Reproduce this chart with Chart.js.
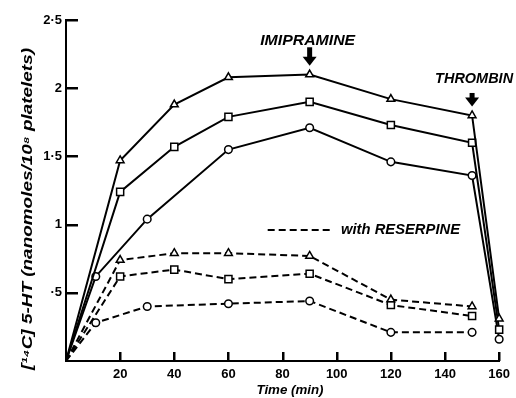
<!DOCTYPE html>
<html><head><meta charset="utf-8">
<script src="https://cdn.jsdelivr.net/npm/chart.js@4/dist/chart.umd.min.js"></script>
<style>html,body{margin:0;padding:0;background:#fff}#wrap{width:516px;height:398px}</style>
</head><body><div id="wrap"><canvas id="c" width="516" height="398"></canvas></div>
<script>
// ---- data ----
const timesTS = [0, 20, 40, 60, 90, 120, 150, 160];          // triangle & square, control
const timesC  = [0, 11, 30, 60, 90, 120, 150, 160];          // circle, control
const timesTSr = [0, 20, 40, 60, 90, 120, 150];              // triangle & square, reserpine
const timesCr  = [0, 11, 30, 60, 90, 120, 150];              // circle, reserpine
const triangleControl = [0, 1.47, 1.88, 2.08, 2.10, 1.92, 1.80, 0.31];
const squareControl   = [0, 1.24, 1.57, 1.79, 1.90, 1.73, 1.60, 0.23];
const circleControl   = [0, 0.62, 1.04, 1.55, 1.71, 1.46, 1.36, 0.16];
const triangleReserpine = [0, 0.74, 0.79, 0.79, 0.77, 0.45, 0.40];
const squareReserpine   = [0, 0.62, 0.67, 0.60, 0.64, 0.41, 0.33];
const circleReserpine   = [0, 0.28, 0.40, 0.42, 0.44, 0.21, 0.21];
const xTickValues = [20, 40, 60, 80, 100, 120, 140, 160];
const yTickValues = [0.5, 1, 1.5, 2, 2.5];
const yTickLabels = ['·5', '1', '1·5', '2', '2·5'];
const yTitle = '[¹⁴C] 5-HT (nanomoles/10⁸ platelets)';
const xTitle = 'Time (min)';
const legendText = 'with RESERPINE';
const annotations = [
  { text: 'IMIPRAMINE', at: 90 },
  { text: 'THROMBIN', at: 150 }
];

function pts(xs, ys) { return xs.map((x, i) => ({ x: x, y: ys[i] })); }
function ds(label, xs, ys, style, r, dashed) {
  return {
    label: label,
    data: pts(xs, ys),
    borderColor: '#000',
    borderWidth: 2,
    borderDash: dashed ? [7, 4] : [],
    backgroundColor: '#fff',
    pointStyle: style,
    pointRadius: c => c.dataIndex === 0 ? 0 : r,
    pointBorderWidth: 1.5,
    pointBorderColor: '#000',
    pointBackgroundColor: '#fff',
    tension: 0,
    clip: false
  };
}

const FONT = "'Liberation Sans', 'DejaVu Sans', sans-serif";

function fitText(ctx, text, cx, cy, targetW) {
  const w = ctx.measureText(text).width;
  ctx.save();
  ctx.translate(cx, cy);
  ctx.scale(targetW / w, 1);
  ctx.textAlign = 'center';
  ctx.fillText(text, 0, 0);
  ctx.restore();
}

const decor = {
  id: 'decor',
  afterDraw(chart) {
    const ctx = chart.ctx;
    const xs = chart.scales.x, ys = chart.scales.y;
    const L = chart.chartArea.left, B = chart.chartArea.bottom;
    ctx.save();
    ctx.setLineDash([]);
    ctx.strokeStyle = '#000';
    ctx.fillStyle = '#000';
    ctx.lineWidth = 2;
    ctx.lineCap = 'butt';
    // inward ticks
    for (let i = 0; i < yTickValues.length; i++) {
      const py = Math.round(ys.getPixelForValue(yTickValues[i]));
      ctx.beginPath();
      ctx.rect(L, py - 1, 12, 2.5);
      ctx.fill();
    }
    for (let i = 0; i < xTickValues.length; i++) {
      const px = Math.round(xs.getPixelForValue(xTickValues[i]));
      ctx.beginPath();
      ctx.rect(px - 1, B - 9, 2.5, 9);
      ctx.fill();
    }
    // annotations with arrows
    ctx.textBaseline = 'middle';
    const arrow = (px, y1, y2) => {
      ctx.fillRect(px - 2.5, y1, 5, (y2 - y1) - 7);
      ctx.beginPath();
      ctx.moveTo(px - 7, y2 - 9); ctx.lineTo(px + 7, y2 - 9); ctx.lineTo(px, y2); ctx.closePath(); ctx.fill();
    };
    // IMIPRAMINE
    let px = xs.getPixelForValue(annotations[0].at);
    ctx.font = 'italic bold 15px ' + FONT;
    fitText(ctx, annotations[0].text, px - 2, ys.getPixelForValue(2.35), 95);
    arrow(px, ys.getPixelForValue(2.30), ys.getPixelForValue(2.165));
    // THROMBIN
    px = xs.getPixelForValue(annotations[1].at);
    ctx.font = 'italic bold 14px ' + FONT;
    fitText(ctx, annotations[1].text, px + 2, ys.getPixelForValue(2.07), 78);
    arrow(px, ys.getPixelForValue(1.965), ys.getPixelForValue(1.865));
    // legend
    const ly = ys.getPixelForValue(0.96);
    ctx.setLineDash([7, 4]);
    ctx.beginPath(); ctx.moveTo(xs.getPixelForValue(74.5), ly); ctx.lineTo(xs.getPixelForValue(98), ly); ctx.stroke();
    ctx.setLineDash([]);
    ctx.font = 'italic bold 14px ' + FONT;
    fitText(ctx, legendText, 400.5, ly, 119);
    // x title
    ctx.font = 'italic bold 13px ' + FONT;
    fitText(ctx, xTitle, 290, 390, 67);
    // y title
    ctx.save();
    ctx.translate(28, 209);
    ctx.rotate(-Math.PI / 2);
    ctx.font = 'italic bold 14px ' + FONT;
    fitText(ctx, yTitle, 0, 0, 322);
    ctx.restore();
    ctx.restore();
  }
};

new Chart(document.getElementById('c'), {
  type: 'line',
  data: {
    datasets: [
      ds('triangle control', timesTS, triangleControl, 'triangle', 4.5, false),
      ds('square control', timesTS, squareControl, 'rect', 5, false),
      ds('circle control', timesC, circleControl, 'circle', 3.8, false),
      ds('triangle reserpine', timesTSr, triangleReserpine, 'triangle', 4.5, true),
      ds('square reserpine', timesTSr, squareReserpine, 'rect', 5, true),
      ds('circle reserpine', timesCr, circleReserpine, 'circle', 3.8, true)
    ]
  },
  options: {
    responsive: false,
    devicePixelRatio: 1,
    animation: false,
    layout: { padding: { top: 20, right: 15, left: 0, bottom: 0 } },
    plugins: { legend: { display: false }, tooltip: { enabled: false } },
    scales: {
      x: {
        type: 'linear', min: 0, max: 160,
        afterFit: s => { s.height = 37; },
        grid: { display: false, drawTicks: false },
        border: { display: true, color: '#000', width: 2 },
        afterBuildTicks: s => { s.ticks = xTickValues.map(v => ({ value: v })); },
        ticks: { color: '#000', padding: 6, maxRotation: 0, font: { family: FONT, weight: 'bold', size: 13 } }
      },
      y: {
        type: 'linear', min: 0, max: 2.5,
        afterFit: s => { s.width = 66; },
        grid: { display: false, drawTicks: false },
        border: { display: true, color: '#000', width: 2 },
        afterBuildTicks: s => { s.ticks = yTickValues.map(v => ({ value: v })); },
        ticks: { color: '#000', padding: 4, font: { family: FONT, weight: 'bold', size: 13 },
          callback: v => { const i = yTickValues.indexOf(v); return i >= 0 ? yTickLabels[i] : ''; } }
      }
    }
  },
  plugins: [decor]
});
</script>
</body></html>
